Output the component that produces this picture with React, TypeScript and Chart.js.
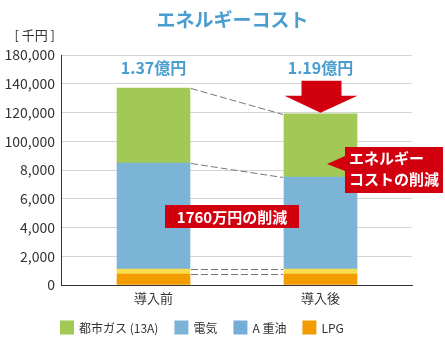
import React, { useEffect, useRef } from "react";
import { Chart, registerables } from "chart.js";

Chart.register(...registerables);

const categories = ["導入前", "導入後"];
const seriesNames = ["都市ガス (13A)", "電気", "A 重油", "LPG"];
const cityGas = [52200, 44000];
const electricity = [73700, 64000];
const heavyOil = [3500, 3500];
const lpg = [7600, 7600];
const totalLabels = ["1.37億円", "1.19億円"];
const yTickLabels = ["0", "2,000", "4,000", "6,000", "8,000", "100,000", "120,000", "140,000", "180,000"];
const titleText = "エネルギーコスト";
const unitText = "[ 千円 ]";
const calloutLines = ["エネルギー", "コストの削減"];
const savingsText = "1760万円の削減";
const totalLabelValue = 151000;

const FONT = "'Noto Sans CJK JP', 'Noto Sans', sans-serif";
const BLUE_TEXT = "#4a9dcf";
const RED = "#d2000f";
const barColors = {
  gas: "#a2c955",
  elec: "#7cb4d7",
  oil: "#f8dc50",
  lpg: "#f39c00",
};
const legendColors = ["#a2c955", "#7cb4d7", "#74aed6", "#f39c00"];

const annotations = {
  id: "annotations",
  afterDatasetsDraw(chart: any) {
    const ctx = chart.ctx as CanvasRenderingContext2D;
    const y = chart.scales.y;
    const m = (i: number) => chart.getDatasetMeta(i).data;
    // dataset order: 0 LPG, 1 oil, 2 elec, 3 gas
    const lpgEl = m(0), oilEl = m(1), elecEl = m(2), gasEl = m(3);
    const b0 = gasEl[0], b1 = gasEl[1];
    const r0 = b0.x + b0.width / 2;
    const l1 = b1.x - b1.width / 2;
    ctx.save();
    // dashed connectors
    ctx.strokeStyle = "#777";
    ctx.lineWidth = 1;
    ctx.setLineDash([7, 3]);
    const pairs = [
      [gasEl[0].y, gasEl[1].y],
      [elecEl[0].y, elecEl[1].y],
      [oilEl[0].y, oilEl[1].y],
      [lpgEl[0].y, lpgEl[1].y],
    ];
    for (const [ya, yb] of pairs) {
      ctx.beginPath();
      ctx.moveTo(r0 + 1, Math.round(ya) + 0.5);
      ctx.lineTo(l1 - 1, Math.round(yb) + 0.5);
      ctx.stroke();
    }
    ctx.setLineDash([]);

    // totals
    ctx.fillStyle = BLUE_TEXT;
    ctx.font = `bold 16px ${FONT}`;
    ctx.textAlign = "center";
    ctx.textBaseline = "middle";
    const ty = y.getPixelForValue(totalLabelValue);
    totalLabels.forEach((t, i) => {
      ctx.fillText(t, gasEl[i].x, ty);
    });

    // arrow
    const ax = b1.x;
    const tip = b1.y - 1;
    ctx.fillStyle = RED;
    ctx.beginPath();
    ctx.moveTo(ax, tip);
    ctx.lineTo(ax - 36, tip - 17);
    ctx.lineTo(ax - 19, tip - 17);
    ctx.lineTo(ax - 19, tip - 32);
    ctx.lineTo(ax + 21, tip - 32);
    ctx.lineTo(ax + 21, tip - 17);
    ctx.lineTo(ax + 37, tip - 17);
    ctx.closePath();
    ctx.fill();

    // callout
    const anchorY = elecEl[1].y;
    const bx = b1.x + b1.width / 2 - 12;
    const by = anchorY - 30;
    const bw = 98, bh = 46;
    ctx.beginPath();
    ctx.moveTo(bx, by);
    ctx.lineTo(bx + bw, by);
    ctx.lineTo(bx + bw, by + bh);
    ctx.lineTo(bx, by + bh);
    ctx.lineTo(bx, anchorY - 6);
    ctx.lineTo(bx - 18, anchorY - 13);
    ctx.lineTo(bx, anchorY - 21);
    ctx.closePath();
    ctx.fill();
    ctx.fillStyle = "#fff";
    ctx.font = `bold 15px ${FONT}`;
    ctx.textAlign = "left";
    ctx.fillText(calloutLines[0], bx + 4, by + 11);
    ctx.fillText(calloutLines[1], bx + 4, by + 32);

    // savings box
    const sx = (b0.x + b1.x) / 2 - 5;
    const sy = (elecEl[0].y + elecEl[0].base) / 2;
    ctx.font = `bold 15px ${FONT}`;
    const tw = ctx.measureText(savingsText).width;
    const sw = tw + 24, sh = 23;
    ctx.fillStyle = RED;
    ctx.fillRect(Math.round(sx - sw / 2), Math.round(sy - sh / 2), Math.round(sw), sh);
    ctx.fillStyle = "#fff";
    ctx.textAlign = "center";
    ctx.fillText(savingsText, sx, sy + 1);
    ctx.restore();
  },
  afterDraw(chart: any) {
    const ctx = chart.ctx as CanvasRenderingContext2D;
    const area = chart.chartArea;
    ctx.save();
    // title
    ctx.fillStyle = BLUE_TEXT;
    ctx.font = `bold 19px ${FONT}`;
    ctx.textAlign = "center";
    ctx.textBaseline = "middle";
    ctx.fillText(titleText, (area.left + area.right) / 2 - 4, 20);
    // unit
    ctx.fillStyle = "#333";
    ctx.font = `13px ${FONT}`;
    ctx.textAlign = "right";
    ctx.fillText(unitText, area.left - 6, 35);
    // legend
    ctx.font = `12px ${FONT}`;
    ctx.textAlign = "left";
    let x = area.left - 1;
    const ly = 327.5;
    seriesNames.forEach((name, i) => {
      ctx.fillStyle = legendColors[i];
      ctx.fillRect(x, ly - 7, 14, 14);
      ctx.fillStyle = "#333";
      ctx.fillText(name, x + 19, ly + 1);
      x += 19 + ctx.measureText(name).width + 16;
    });
    ctx.restore();
  },
};

export default function App() {
  const ref = useRef<HTMLCanvasElement | null>(null);
  useEffect(() => {
    if (!ref.current) return;
    const mk = (label: string, data: number[], color: string) => ({
      label,
      data: data.map((v, i) => ({ x: i, y: v })),
      backgroundColor: color,
      borderWidth: 0,
      barThickness: 73,
    });
    const chart = new Chart(ref.current, {
      type: "bar",
      data: {
        datasets: [
          mk(seriesNames[3], lpg, barColors.lpg),
          mk(seriesNames[2], heavyOil, barColors.oil),
          mk(seriesNames[1], electricity, barColors.elec),
          mk(seriesNames[0], cityGas, barColors.gas),
        ],
      },
      options: {
        animation: false,
        responsive: false,
        layout: { padding: { left: 0, right: 33, top: 55, bottom: 0 } },
        plugins: { legend: { display: false }, tooltip: { enabled: false }, title: { display: false } },
        scales: {
          x: {
            type: "linear",
            stacked: true,
            offset: false,
            min: -0.554,
            max: 1.548,
            afterBuildTicks: (s: any) => {
              s.ticks = categories.map((_, i) => ({ value: i }));
            },
            afterFit: (s: any) => {
              s.height = 65;
            },
            grid: { display: false, drawTicks: false, offset: false },
            border: { display: true, color: "#333", width: 1 },
            ticks: {
              padding: 5,
              color: "#333",
              font: { family: FONT, size: 13 },
              callback: (v: any) => categories[Math.round(v)] ?? "",
            },
          },
          y: {
            stacked: true,
            min: 0,
            max: 160000,
            afterBuildTicks: (s: any) => {
              s.ticks = yTickLabels.map((_, i) => ({ value: i * 20000 }));
            },
            afterFit: (s: any) => {
              s.width = 61;
            },
            grid: { color: "#d4d4d4", drawTicks: false, lineWidth: 1 },
            border: { display: true, color: "#333", width: 1 },
            ticks: {
              padding: 6,
              color: "#333",
              font: { family: FONT, size: 14 },
              callback: (_v: any, i: number) => yTickLabels[i],
            },
          },
        },
      } as any,
      plugins: [annotations],
    });
    return () => chart.destroy();
  }, []);
  return (
    <div style={{ position: "fixed", left: 0, top: 0, width: 445, height: 350, background: "#fff" }}>
      <canvas ref={ref} width={445} height={350} style={{ width: 445, height: 350, display: "block" }} />
    </div>
  );
}
